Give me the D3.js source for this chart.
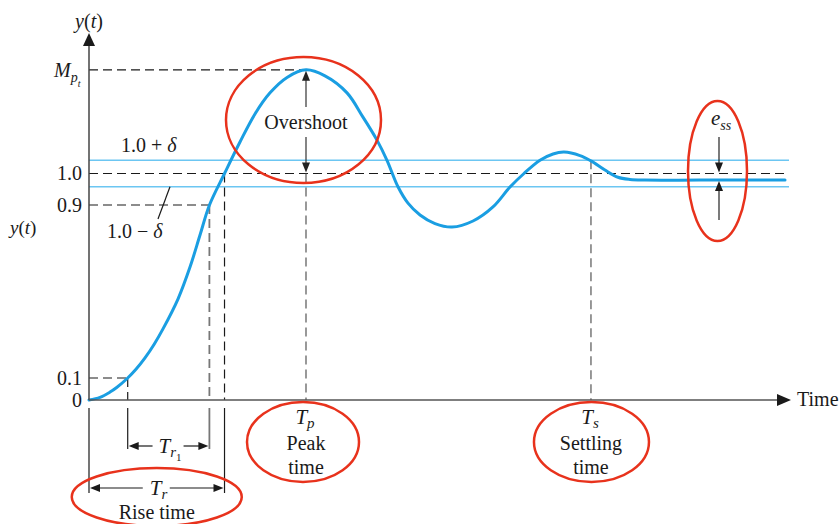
<!DOCTYPE html>
<html><head><meta charset="utf-8">
<script src="https://cdn.jsdelivr.net/npm/d3@7"></script>
<style>
body{margin:0;background:#fff}
svg{display:block}
text{font-family:"Liberation Serif","Times New Roman",serif;fill:#1a1a1a}
</style>
</head><body>
<svg id="c" width="840" height="524"></svg>
<script>
// ---- data (time in arbitrary units, response in normalized units) ----
const curveT = [0, 0.157, 0.3, 0.4, 0.553, 0.671, 0.8, 0.929, 1.057, 1.271, 1.443, 1.586, 1.721, 1.936, 2.157, 2.371, 2.586, 2.829, 3.1,
  3.371, 3.686, 3.914, 4.114, 4.257, 4.414, 4.557, 4.729, 4.943, 5.186, 5.486, 5.771, 6.014, 6.214, 6.443, 6.629,
  6.786, 7.014, 7.171, 7.371, 7.557, 7.729, 7.943, 8.729, 9.943];
const curveY = [0, 0.012, 0.036, 0.058, 0.1, 0.14, 0.193, 0.255, 0.327, 0.465, 0.613, 0.761, 0.9, 1.0, 1.1, 1.189, 1.256, 1.305, 1.329,
  1.31, 1.256, 1.179, 1.106, 1.042, 0.958, 0.906, 0.854, 0.814, 0.798, 0.826, 0.891, 0.957, 1.0, 1.042, 1.062,
  1.068, 1.057, 1.04, 1.011, 0.988, 0.981, 0.979, 0.979, 0.979];
const yTickValues = [0, 0.1, 0.9, 1.0];
const yTickLabels = ["0", "0.1", "0.9", "1.0"];
const peakValue = 1.329;      // M_pt
const delta = 0.042;          // tolerance band
const finalValue = 0.979;     // steady-state level
const tTen = 0.553, tNinety = 1.72, tRise = 1.936, tPeak = 3.1, tSettle = 7.171, tEss = 9.0, tMax = 10;

// ---- scales ----
const svg = d3.select("#c");
const x = d3.scaleLinear().domain([0, tMax]).range([89, 789]);
const y = d3.scaleLinear().domain([0, 0.1, 0.9, 1.0]).range([400, 378, 205, 173.5]);

const RED = "#e8321c", BLUE = "#1a9ee2", LBLUE = "#6cc6f2", INK = "#1a1a1a";

function arrowHead(g, tipX, tipY, dir, len, w, color) {
  let p;
  if (dir === "up") p = [[tipX, tipY], [tipX - w / 2, tipY + len], [tipX + w / 2, tipY + len]];
  if (dir === "down") p = [[tipX, tipY], [tipX - w / 2, tipY - len], [tipX + w / 2, tipY - len]];
  if (dir === "left") p = [[tipX, tipY], [tipX + len, tipY - w / 2], [tipX + len, tipY + w / 2]];
  if (dir === "right") p = [[tipX, tipY], [tipX - len, tipY - w / 2], [tipX - len, tipY + w / 2]];
  g.append("path").attr("d", "M" + p.map(d => d.join(",")).join("L") + "Z").attr("fill", color || INK);
}
function line(g, x1, y1, x2, y2, opts) {
  opts = opts || {};
  return g.append("line").attr("x1", x1).attr("y1", y1).attr("x2", x2).attr("y2", y2)
    .attr("stroke", opts.color || INK).attr("stroke-width", opts.w || 1.2)
    .attr("stroke-dasharray", opts.dash ? "9,5" : null);
}

const g = svg.append("g");

// ---- tolerance band & reference lines ----
line(g, x(0), y(1 + delta), x(tMax), y(1 + delta), {color: LBLUE, w: 1.6});
line(g, x(0), y(1 - delta), x(tMax), y(1 - delta), {color: LBLUE, w: 1.6});
line(g, x(0), y(1.0), x(tMax), y(1.0), {dash: true});
line(g, x(0), y(peakValue), x(tPeak), y(peakValue), {dash: true});
line(g, x(0), y(0.9), x(tNinety), y(0.9), {dash: true});
line(g, x(0), y(0.1), x(tTen), y(0.1), {dash: true});

// verticals above axis (dashed)
line(g, x(tTen), y(0.1), x(tTen), y(0), {dash: true});
line(g, x(tNinety), y(0.9), x(tNinety), y(0), {dash: true, color: "#777", w: 1.8});
line(g, x(tRise), y(1.0), x(tRise), y(0), {dash: true});
line(g, x(tPeak), y(1.0), x(tPeak), y(0), {dash: true, color: "#555"});
line(g, x(tSettle), y(1 + delta), x(tSettle), y(0), {dash: true, color: "#555"});

// verticals below axis (solid)
const below = y(0) + 8;
line(g, x(0), below, x(0), 493);
line(g, x(tTen), below, x(tTen), 449);
line(g, x(tNinety), below, x(tNinety), 449, {color: "#777", w: 1.8});
line(g, x(tRise), below, x(tRise), 493);

// ---- response curve ----
const pts = curveT.map((t, i) => [t, curveY[i]]);
g.append("path").datum(pts)
  .attr("d", d3.line().x(d => x(d[0])).y(d => y(d[1])).curve(d3.curveCatmullRom.alpha(0.5)))
  .attr("fill", "none").attr("stroke", BLUE).attr("stroke-width", 3).attr("stroke-linecap", "round");

// ---- axes ----
const yAxis = d3.axisLeft(y).tickValues(yTickValues).tickFormat((d, i) => yTickLabels[i]).tickSize(0).tickPadding(7);
const ya = g.append("g").attr("transform", `translate(${x(0)},0)`).call(yAxis);
ya.select(".domain").remove();
ya.selectAll("text").attr("font-size", 20).attr("font-family", '"Liberation Serif",serif').attr("fill", INK);

line(g, x(0), y(0), x(0), 45, {color: "#444", w: 1.5});
arrowHead(g, x(0), 33, "up", 13, 12, INK);
line(g, x(0), y(0), 778, y(0), {color: "#555", w: 1.5});
arrowHead(g, 791, y(0), "right", 14, 12, INK);

// ---- labels ----
function txt(xp, yp, anchor, size, parts) {
  const t = g.append("text").attr("x", xp).attr("y", yp).attr("text-anchor", anchor).attr("font-size", size);
  parts.forEach(p => {
    const s = t.append("tspan").text(p.t);
    if (p.i) s.attr("font-style", "italic");
    if (p.fs) s.attr("font-size", p.fs);
    if (p.dy) s.attr("dy", p.dy);
    if (p.dx) s.attr("dx", p.dx);
  });
  return t;
}
txt(x(0), 28, "middle", 20, [{t: "y", i: 1}, {t: "("}, {t: "t", i: 1}, {t: ")"}]);
txt(10, 234, "start", 19, [{t: "y", i: 1}, {t: "("}, {t: "t", i: 1}, {t: ")"}]);
txt(54, 77, "start", 20, [{t: "M", i: 1}, {t: "p", i: 1, fs: 14, dy: 5}, {t: "t", i: 1, fs: 10, dy: 5}]);
txt(121, 152, "start", 20, [{t: "1.0 + "}, {t: "δ", i: 1}]);
txt(107, 238, "start", 20, [{t: "1.0 − "}, {t: "δ", i: 1}]);
line(g, 158, 219, 170, y(1 - delta));
txt(797, 406, "start", 20, [{t: "Time"}]);

// overshoot
const cxp = x(tPeak);
line(g, cxp, y(peakValue) + 10, cxp, 107, {color: "#333"});
arrowHead(g, cxp, y(peakValue) + 1, "up", 10, 8, "#222");
line(g, cxp, 137, cxp, y(1.0) - 10, {color: "#333"});
arrowHead(g, cxp, y(1.0) - 1, "down", 10, 8, "#222");
txt(cxp, 129, "middle", 20, [{t: "Overshoot"}]);

// steady-state error
const xe = x(tEss);
line(g, xe, 137, xe, y(1.0) - 10, {color: "#222"});
arrowHead(g, xe, y(1.0) - 1, "down", 10, 8, INK);
line(g, xe, 220, xe, y(finalValue) + 10, {color: "#222"});
arrowHead(g, xe, y(finalValue) + 1, "up", 10, 8, INK);
txt(xe - 8, 125, "start", 21, [{t: "e", i: 1}, {t: "ss", i: 1, fs: 14, dy: 5}]);

// peak / settling labels
[[tPeak, "p", "Peak"], [tSettle, "s", "Settling"]].forEach(([t, sub, word]) => {
  txt(x(t) - 1, 424, "middle", 21, [{t: "T", i: 1}, {t: sub, i: 1, fs: 15, dy: 4}]);
  txt(x(t), 450, "middle", 20, [{t: word}]);
  txt(x(t), 474, "middle", 20, [{t: "time"}]);
});

// rise time T_r1
const yr1 = 446, cr1 = (x(tTen) + x(tNinety)) / 2;
line(g, x(tTen) + 8, yr1, cr1 - 16, yr1);
arrowHead(g, x(tTen) + 1, yr1, "left", 10, 8, INK);
line(g, cr1 + 15, yr1, x(tNinety) - 8, yr1);
arrowHead(g, x(tNinety) - 1, yr1, "right", 10, 8, INK);
txt(cr1 - 10, 453, "start", 21, [{t: "T", i: 1}, {t: "r", i: 1, fs: 15, dy: 4}, {t: "1", fs: 11, dy: 4}]);

// rise time T_r
const yr = 488, cr = (x(0) + x(tRise)) / 2;
line(g, x(0) + 8, yr, cr - 14, yr);
arrowHead(g, x(0) + 1, yr, "left", 10, 8, INK);
line(g, cr + 13, yr, x(tRise) - 8, yr);
arrowHead(g, x(tRise) - 1, yr, "right", 10, 8, INK);
txt(cr - 7, 495, "start", 21, [{t: "T", i: 1}, {t: "r", i: 1, fs: 15, dy: 4}]);
txt(cr, 519, "middle", 20, [{t: "Rise time"}]);

// ---- red highlight ellipses ----
const ell = [
  [x(tPeak) - 2.5, 120, 77.5, 63],
  [x(tEss) - 1.5, 171, 29.5, 70],
  [x(tPeak) - 3, 442, 56, 40],
  [x(tSettle) + 0.5, 442, 57.5, 40],
  [cr, 497, 85, 29]
];
g.selectAll("ellipse.hl").data(ell).join("ellipse").attr("class", "hl")
  .attr("cx", d => d[0]).attr("cy", d => d[1]).attr("rx", d => d[2]).attr("ry", d => d[3])
  .attr("fill", "none").attr("stroke", RED).attr("stroke-width", 2.5);
</script>
</body></html>
